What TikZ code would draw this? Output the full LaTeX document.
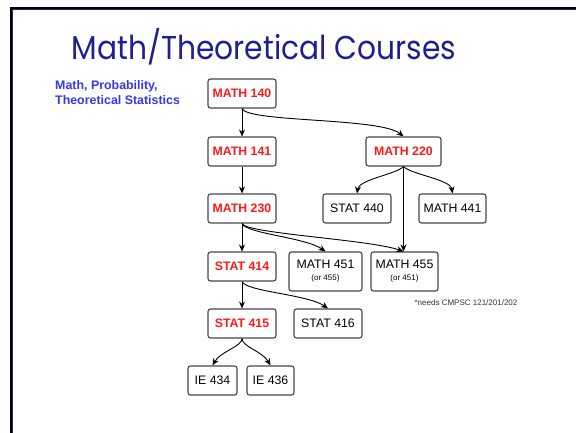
\documentclass[tikz,border=0pt]{standalone}
\usepackage{fontspec}
\setmainfont{Liberation Sans}
\newfontfamily\titlefont{Poppins}
\usetikzlibrary{arrows.meta}
\definecolor{titlenavy}{HTML}{1F1F8F}
\definecolor{framenavy}{HTML}{1A237E}
\definecolor{lblue}{HTML}{3737EE}
\definecolor{cred}{HTML}{FF1A1A}
\definecolor{boxgray}{HTML}{474747}
\definecolor{notegray}{HTML}{333333}
\tikzset{
  course/.style={draw=boxgray, line width=1.1pt, rounded corners=2.5pt, fill=white,
    minimum height=29pt, inner sep=0pt, align=center, font=\fontsize{12.3}{13}\selectfont},
  core/.style={course, text=cred, font=\fontsize{12.3}{13}\selectfont\bfseries},
  conn/.style={line width=0.9pt, -{Stealth[length=7pt,width=6pt]}}
}
\begin{document}
\begin{tikzpicture}[x=1pt,y=-1pt]
\useasboundingbox (0,0) rectangle (576,432);
\fill[white] (0,0) rectangle (576,432);
% frame
\draw[line width=2.6pt] (11,433) -- (11,8) -- (577,8);
\draw[framenavy, line width=0.8pt] (12.8,433) -- (12.8,9.8) -- (577,9.8);
% title
\node[anchor=base, text=titlenavy, inner sep=0pt] (title) at (264,59) {\scalebox{0.9}[1]{\titlefont\fontsize{33}{38}\selectfont Math/Theoretical Courses}};
% side label
\node[anchor=north west, align=left, text=lblue, inner sep=0pt,
  font=\fontsize{12.4}{15.5}\selectfont\bfseries] (lbl) at (55,80) {Math, Probability,\\Theoretical Statistics};
% courses
\node[core, minimum width=68pt] (m140) at (242,93.5) {MATH 140};
\node[core, minimum width=68pt] (m141) at (242,151.5) {MATH 141};
\node[core, minimum width=68pt] (m230) at (242,208.5) {MATH 230};
\node[core, minimum width=75pt] (m220) at (403.5,151.5) {MATH 220};
\node[course, minimum width=68pt] (s440) at (357,208.5) {STAT 440};
\node[course, minimum width=67pt] (m441) at (452.5,208.5) {MATH 441};
\node[core, minimum width=68pt] (s414) at (242,266.5) {STAT 414};
\node[course, minimum width=73pt, minimum height=39pt] (m451) at (325.5,271.5) {MATH 451\\[-1pt]{\fontsize{8}{9}\selectfont(or 455)}};
\node[course, minimum width=67pt, minimum height=39pt] (m455) at (404.5,271.5) {MATH 455\\[-1pt]{\fontsize{8}{9}\selectfont(or 451)}};
\node[core, minimum width=68pt] (s415) at (242,323.5) {STAT 415};
\node[course, minimum width=68pt] (s416) at (328,323.5) {STAT 416};
\node[course, minimum width=49pt] (ie434) at (212.5,380.5) {IE 434};
\node[course, minimum width=47pt] (ie436) at (270.5,380.5) {IE 436};
\node[font=\fontsize{8}{9}\selectfont, text=notegray, inner sep=0pt] (note) at (466,303) {*needs CMPSC 121/201/202};
% connectors
\draw[conn] (m140) -- (m141);
\draw[conn] (m141) -- (m230);
\draw[conn] (m230) -- (s414);
\draw[conn] (s414) -- (s415);
\draw[conn] (m140.south) .. controls +(6,14) and +(-23,-19) .. (m220.north);
\draw[conn] (m220.south) .. controls +(-8,8) and +(2,-14) .. (s440.north);
\draw[conn] (m220.south) .. controls +(8,8) and +(-2,-14) .. (m441.north);
\draw[conn] (m220.south) -- (m455.north -| m220.south);
\draw[conn] (m230.south) .. controls +(4,10) and +(-20,-14) .. (m451.north);
\draw[conn] (m230.south) .. controls +(4,10) and +(-34,-12) .. (m455.north -| m220.south);
\draw[conn] (s414.south) .. controls +(4,10) and +(-20,-14) .. (s416.north);
\draw[conn] (s415.south) .. controls +(0,8) and +(8,-14) .. (ie434.north);
\draw[conn] (s415.south) .. controls +(0,8) and +(-8,-14) .. (ie436.north);
\end{tikzpicture}
\end{document}
